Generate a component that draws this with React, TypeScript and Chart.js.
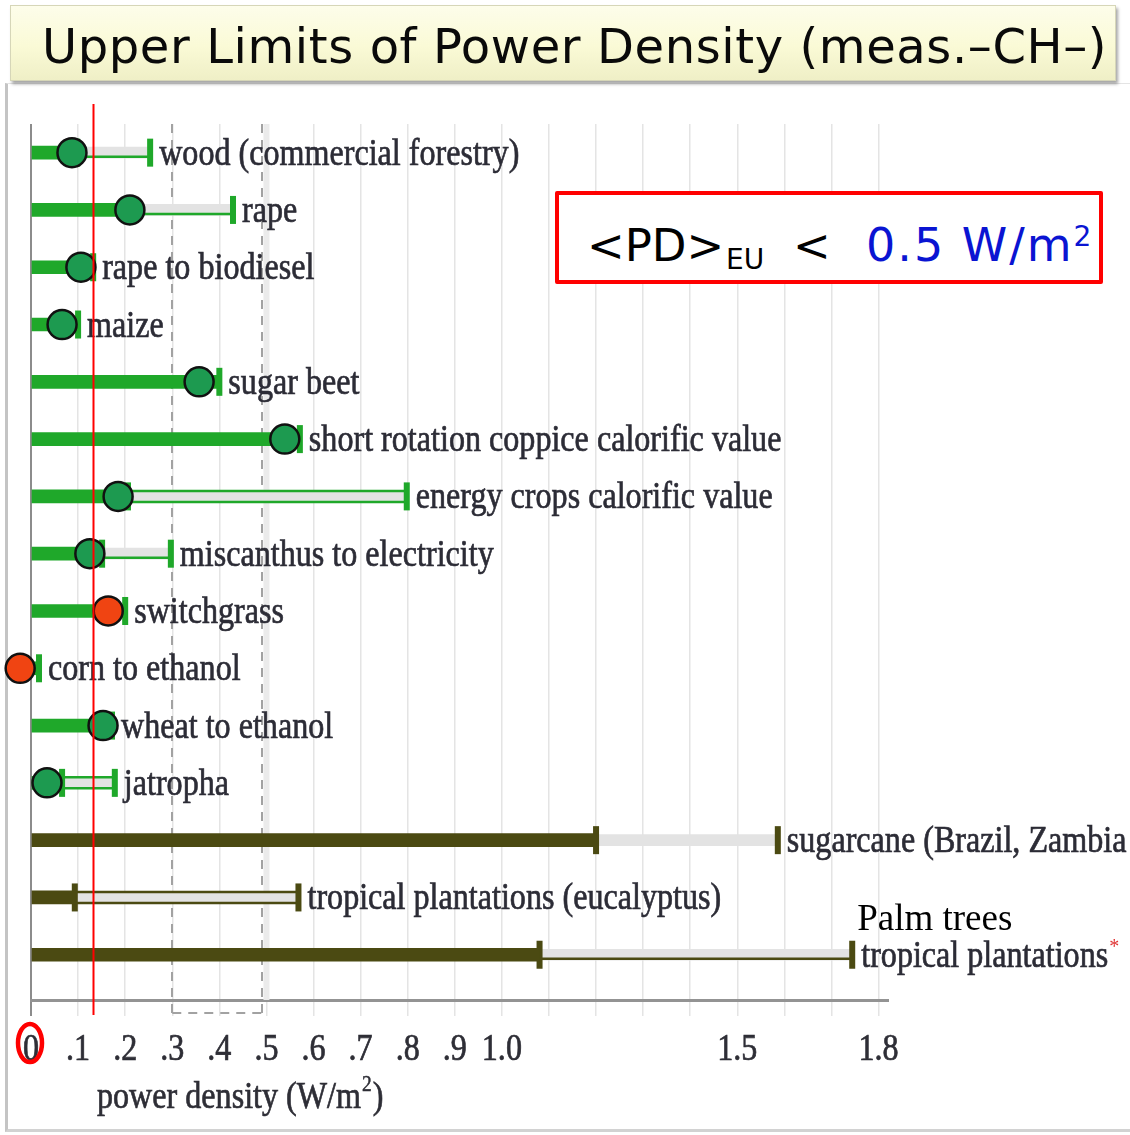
import React, { useEffect, useRef } from "react";
import { Chart, registerables } from "chart.js";

Chart.register(...registerables);

// ---------------- data ----------------
const categories = [
  "wood (commercial forestry)",
  "rape",
  "rape to biodiesel",
  "maize",
  "sugar beet",
  "short rotation coppice calorific value",
  "energy crops calorific value",
  "miscanthus to electricity",
  "switchgrass",
  "corn to ethanol",
  "wheat to ethanol",
  "jatropha",
  "sugarcane (Brazil, Zambia",
  "tropical plantations (eucalyptus)",
  "tropical plantations",
];
// end of the solid bar (W/m2)
const thickEnd = [0.098, 0.217, 0.132, 0.1, 0.4, 0.571, 0.206, 0.151, 0.2, 0.017, 0.172, 0.066, 1.2, 0.093, 1.08];
// circle marker (W/m2), null = none
const dotValues = [0.087, 0.21, 0.106, 0.066, 0.357, 0.539, 0.185, 0.125, 0.164, -0.023, 0.153, 0.034, null, null, null];
// upper end of the range (W/m2), null = none
const upperValues = [0.253, 0.429, null, null, null, null, 0.798, 0.297, null, null, null, 0.178, 1.586, 0.568, 1.744];
// how the range is drawn
const upperStyle = ["single", "single", "none", "none", "none", "none", "double", "single", "none", "none", "none", "double", "band", "double", "single"];
// marker kind
const dotKinds = ["good", "good", "good", "good", "good", "good", "good", "good", "poor", "poor", "good", "good", null, null, null];
// group
const rowGroups = ["eu", "eu", "eu", "eu", "eu", "eu", "eu", "eu", "eu", "eu", "eu", "eu", "tropical", "tropical", "tropical"];
const starredRows = [14];
const palmRow = 14;
const palmNote = "Palm trees";

const gridValues = [0, 0.1, 0.2, 0.3, 0.4, 0.5, 0.6, 0.7, 0.8, 0.9, 1.0, 1.1, 1.2, 1.3, 1.4, 1.5, 1.6, 1.7, 1.8];
const tickLabelValues = [0, 0.1, 0.2, 0.3, 0.4, 0.5, 0.6, 0.7, 0.8, 0.9, 1.0, 1.5, 1.8];
const tickLabels = ["0", ".1", ".2", ".3", ".4", ".5", ".6", ".7", ".8", ".9", "1.0", "1.5", "1.8"];
const markerLine = 0.132;
const dashedMarks = [0.3, 0.49];
const referenceBand = 0.5;
const xMax = 1.82;

// ---------------- style ----------------
const GREEN = "#1fa82a";
const OLIVE = "#4b4a12";
const DOT_GREEN = "#1d9a50";
const DOT_RED = "#f04412";
const BAND = "#e3e3e3";
const LABEL = "#2c2c36";
const SERIF = '"Liberation Serif", "DejaVu Serif", serif';
const SX = 0.845;
const LABEL_FONT = `38px ${SERIF}`;

const colorOf = (i: number) => (rowGroups[i] === "tropical" ? OLIVE : GREEN);

function condensedText(ctx: CanvasRenderingContext2D, text: string, x: number, y: number, font: string, color: string, sx: number, align: CanvasTextAlign = "left", weight = 0) {
  ctx.save();
  ctx.font = font;
  ctx.fillStyle = color;
  ctx.strokeStyle = color;
  ctx.textBaseline = "alphabetic";
  ctx.textAlign = align;
  ctx.translate(x, y);
  ctx.scale(sx, 1);
  ctx.fillText(text, 0, 0);
  if (weight > 0) {
    ctx.lineWidth = weight;
    ctx.strokeText(text, 0, 0);
  }
  const w = ctx.measureText(text).width * sx;
  ctx.restore();
  return w;
}

const decorPlugin = {
  id: "decor",
  beforeDatasetsDraw(chart: any) {
    const ctx = chart.ctx as CanvasRenderingContext2D;
    const xs = chart.scales.x;
    const area = chart.chartArea;
    ctx.save();
    // light band at 0.5
    const bx = xs.getPixelForValue(referenceBand);
    ctx.strokeStyle = "#ebebeb";
    ctx.lineWidth = 6;
    ctx.beginPath();
    ctx.moveTo(bx, area.top);
    ctx.lineTo(bx, area.bottom);
    ctx.stroke();
    // dashed marks
    ctx.strokeStyle = "#a2a2a2";
    ctx.lineWidth = 2;
    ctx.setLineDash([9, 7]);
    const boxBottom = area.bottom + 13;
    dashedMarks.forEach((v) => {
      const px = Math.round(xs.getPixelForValue(v));
      ctx.beginPath();
      ctx.moveTo(px, area.top);
      ctx.lineTo(px, boxBottom);
      ctx.stroke();
    });
    ctx.beginPath();
    ctx.moveTo(xs.getPixelForValue(dashedMarks[0]), boxBottom);
    ctx.lineTo(xs.getPixelForValue(dashedMarks[1]), boxBottom);
    ctx.stroke();
    ctx.restore();
  },
  afterDatasetDraw(chart: any, args: any) {
    if (args.index !== 0) return;
    const ctx = chart.ctx as CanvasRenderingContext2D;
    const xs = chart.scales.x;
    const ys = chart.scales.y;
    ctx.save();
    categories.forEach((_, i) => {
      const y = ys.getPixelForValue(i);
      const col = colorOf(i);
      ctx.strokeStyle = col;
      ctx.fillStyle = col;
      ctx.lineWidth = 2.5;
      const a = xs.getPixelForValue(thickEnd[i]);
      const up = upperValues[i];
      if (up != null) {
        const b = xs.getPixelForValue(up);
        if (upperStyle[i] === "single") {
          ctx.beginPath();
          ctx.moveTo(a, y + 4);
          ctx.lineTo(b, y + 4);
          ctx.stroke();
        } else if (upperStyle[i] === "double") {
          ctx.beginPath();
          ctx.moveTo(a, y - 5.5);
          ctx.lineTo(b, y - 5.5);
          ctx.moveTo(a, y + 5.5);
          ctx.lineTo(b, y + 5.5);
          ctx.stroke();
        }
        ctx.fillRect(b - 3, y - 14, 6, 28);
      }
      ctx.fillRect(a - 3, y - 14, 6, 28);
    });
    ctx.restore();
  },
  afterDatasetsDraw(chart: any) {
    const ctx = chart.ctx as CanvasRenderingContext2D;
    const xs = chart.scales.x;
    const ys = chart.scales.y;
    categories.forEach((name, i) => {
      const y = ys.getPixelForValue(i);
      const end = Math.max(thickEnd[i], upperValues[i] ?? -1);
      const x = xs.getPixelForValue(end) + 9;
      const w = condensedText(ctx, name, x, y + 12, LABEL_FONT, LABEL, SX, "left", 0.7);
      if (starredRows.includes(i)) {
        condensedText(ctx, "*", x + w + 1, y - 2, `20px ${SERIF}`, "#e03434", 1);
      }
    });
    // Palm trees note
    const py = ys.getPixelForValue(palmRow) - 25;
    const px = xs.getPixelForValue(upperValues[palmRow] as number) + 5;
    condensedText(ctx, palmNote, px, py, `37px ${SERIF}`, "#000000", 1);
  },
  afterDraw(chart: any) {
    const ctx = chart.ctx as CanvasRenderingContext2D;
    const xs = chart.scales.x;
    const area = chart.chartArea;
    // tick labels
    tickLabelValues.forEach((v, k) => {
      condensedText(ctx, tickLabels[k], xs.getPixelForValue(v), area.bottom + 60, LABEL_FONT, "#2e2e36", SX, "center", 0.7);
    });
    // axis title
    let tx = area.left + 66;
    const ty = area.bottom + 108;
    tx += condensedText(ctx, "power density (W/m", tx, ty, LABEL_FONT, "#2e2e36", SX, "left", 0.7);
    tx += condensedText(ctx, "2", tx + 1, ty - 17, `23px ${SERIF}`, "#2e2e36", SX, "left", 0.5) + 1;
    condensedText(ctx, ")", tx + 1, ty, LABEL_FONT, "#2e2e36", SX, "left", 0.7);
    // red ellipse around 0
    ctx.save();
    ctx.strokeStyle = "#ff0000";
    ctx.lineWidth = 4.5;
    ctx.beginPath();
    ctx.ellipse(xs.getPixelForValue(0) - 1, area.bottom + 43, 12, 19, 0, 0, Math.PI * 2);
    ctx.stroke();
    // red vertical marker
    const rx = Math.round(xs.getPixelForValue(markerLine)) + 0.5;
    ctx.lineWidth = 2;
    ctx.beginPath();
    ctx.moveTo(rx, area.top - 20);
    ctx.lineTo(rx, area.bottom + 15);
    ctx.stroke();
    ctx.restore();
  },
};

export default function App() {
  const canvasRef = useRef<HTMLCanvasElement | null>(null);

  useEffect(() => {
    const canvas = canvasRef.current;
    if (!canvas) return;
    const bandData: any[] = [];
    categories.forEach((_, i) => {
      if (upperValues[i] != null) bandData.push({ y: i, x: [thickEnd[i], upperValues[i]] });
    });
    const thickData = categories.map((_, i) => ({ y: i, x: [0, thickEnd[i]] }));
    const dotData: any[] = [];
    const dotCols: string[] = [];
    categories.forEach((_, i) => {
      if (dotValues[i] != null) {
        dotData.push({ x: dotValues[i], y: i });
        dotCols.push(dotKinds[i] === "poor" ? DOT_RED : DOT_GREEN);
      }
    });

    const chart = new Chart(canvas, {
      type: "bar",
      data: {
        datasets: [
          {
            type: "bar",
            label: "range",
            data: bandData,
            grouped: false,
            barThickness: 11,
            backgroundColor: BAND,
            borderWidth: 0,
            order: 3,
          } as any,
          {
            type: "bar",
            label: "solid",
            data: thickData,
            grouped: false,
            barThickness: 13,
            backgroundColor: categories.map((_, i) => colorOf(i)),
            borderWidth: 0,
            order: 2,
          } as any,
          {
            type: "scatter",
            label: "marker",
            data: dotData,
            pointRadius: 14.5,
            pointBackgroundColor: dotCols,
            pointBorderColor: "#111111",
            pointBorderWidth: 2.5,
            showLine: false,
            clip: false,
            order: 1,
          } as any,
        ],
      },
      options: {
        indexAxis: "y",
        animation: false,
        responsive: false,
        maintainAspectRatio: false,
        layout: { padding: { left: 31, top: 124, right: 242, bottom: 119 } },
        plugins: {
          legend: { display: false },
          tooltip: { enabled: false },
          title: { display: false },
        },
        scales: {
          x: {
            type: "linear",
            position: "bottom",
            offset: false,
            min: 0,
            max: xMax,
            afterBuildTicks: (s: any) => {
              s.ticks = gridValues.map((v) => ({ value: v }));
            },
            ticks: { display: false },
            grid: {
              offset: false,
              color: (c: any) => (c.tick && c.tick.value === 0 ? "#8c8c8c" : "#e4e4e4"),
              lineWidth: (c: any) => (c.tick && c.tick.value === 0 ? 2 : 1.5),
              drawTicks: true,
              tickLength: 16,
            },
            border: { display: true, color: "#939393", width: 3 },
          },
          y: {
            type: "linear",
            display: false,
            offset: false,
            grid: { offset: false },
            min: -0.5,
            max: 14.79,
            reverse: true,
          },
        },
      } as any,
      plugins: [decorPlugin],
    });
    return () => chart.destroy();
  }, []);

  return (
    <div style={{ position: "absolute", left: 0, top: 0, width: 1130, height: 1135, background: "#ffffff", overflow: "hidden" }}>
      <div
        style={{
          position: "absolute",
          left: 5,
          top: 83,
          width: 1125,
          height: 1049,
          borderLeft: "3px solid #c4c4c4",
          borderBottom: "3px solid #d2d2d2",
          borderTop: "1px solid #e4e4e4",
          boxSizing: "border-box",
        }}
      />
      <canvas ref={canvasRef} width={1130} height={1135} style={{ position: "absolute", left: 0, top: 0, display: "block" }} />
      <div
        style={{
          position: "absolute",
          left: 10,
          top: 5,
          width: 1106,
          height: 76,
          boxSizing: "border-box",
          background: "linear-gradient(to bottom, #fdfdea 0%, #fafad6 55%, #efefc6 100%)",
          border: "1px solid #d6d6b8",
          boxShadow: "2px 3px 3px rgba(0,0,0,0.35)",
        }}
      >
        <div
          style={{
            position: "absolute",
            left: 31,
            top: 16,
            fontFamily: '"DejaVu Sans", Verdana, sans-serif',
            fontSize: 48,
            lineHeight: "48px",
            letterSpacing: "0.6px",
            color: "#0a0a0a",
            whiteSpace: "nowrap",
          }}
        >
          Upper Limits of Power Density (meas.–CH–)
        </div>
      </div>
      <div
        style={{
          position: "absolute",
          left: 555,
          top: 191,
          width: 548,
          height: 93,
          boxSizing: "border-box",
          border: "4px solid #ff0000",
          borderRadius: 2,
          background: "#ffffff",
          fontFamily: '"DejaVu Sans", Verdana, sans-serif',
          whiteSpace: "nowrap",
        }}
      >
        <span style={{ position: "absolute", left: 28, top: 28, fontSize: 45, lineHeight: "45px", color: "#000" }}>&lt;PD&gt;</span>
        <span style={{ position: "absolute", left: 167, top: 51, fontSize: 28, lineHeight: "28px", color: "#000" }}>EU</span>
        <span style={{ position: "absolute", left: 234, top: 28, fontSize: 45, lineHeight: "45px", color: "#000" }}>&lt;</span>
        <span style={{ position: "absolute", left: 307, top: 28, fontSize: 46, lineHeight: "45px", letterSpacing: "2px", color: "#0a14d2" }}>
          0.5 W/m
          <span style={{ position: "relative", top: -15, fontSize: 28, letterSpacing: 0 }}>2</span>
        </span>
      </div>
    </div>
  );
}
